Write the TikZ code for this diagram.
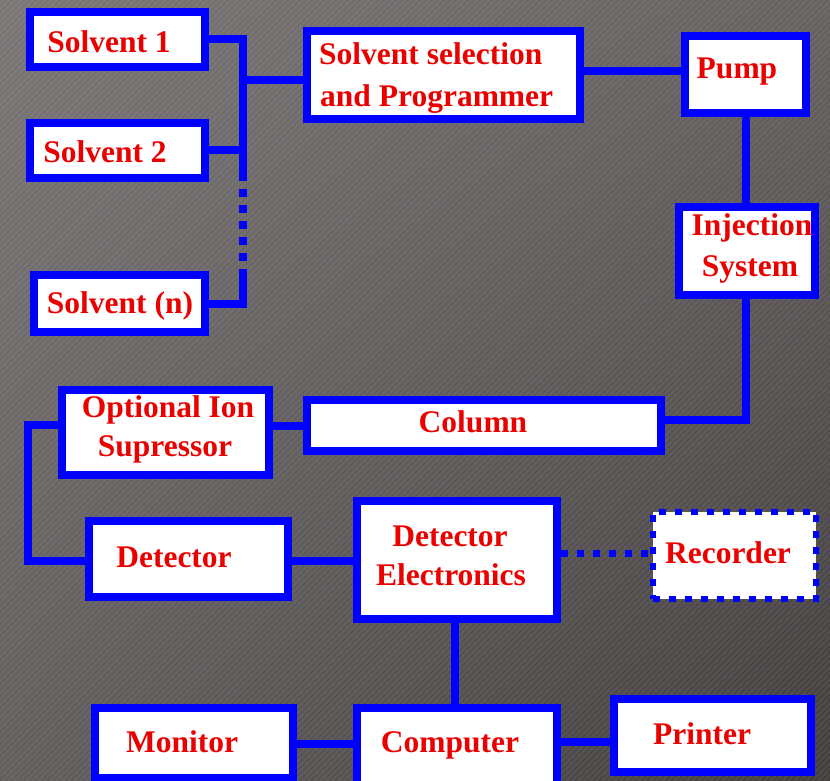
\documentclass[tikz,border=0pt]{standalone}
\usepackage{fontspec}
\usetikzlibrary{shadings}
\setmainfont{Liberation Serif}
\definecolor{bgUL}{RGB}{122,118,118}
\definecolor{bgUR}{RGB}{102,98,98}
\definecolor{bgLL}{RGB}{98,94,94}
\definecolor{bgLR}{RGB}{66,62,62}
\definecolor{boxblue}{RGB}{0,0,255}
\definecolor{txtred}{RGB}{235,0,0}
\begin{document}
\begin{tikzpicture}[x=1pt,y=-1pt,
  box/.style={draw=boxblue,fill=white,line width=8pt,rectangle,inner sep=0pt},
  dotbox/.style={draw=boxblue,fill=white,line width=6.5pt,rectangle,inner sep=0pt,dash pattern=on 7pt off 9pt},
  lbl/.style={text=txtred,font=\fontsize{31.5}{36}\selectfont\bfseries,anchor=base,inner sep=0pt},
  conn/.style={draw=boxblue,line width=8pt},
  dotconn/.style={draw=boxblue,line width=7pt,dash pattern=on 7pt off 9pt}]
\useasboundingbox (0,0) rectangle (830,781);
% background
\shade[upper left=bgUL,upper right=bgUR,lower left=bgLL,lower right=bgLR] (0,0) rectangle (830,781);
\begin{scope}
\clip (0,0) rectangle (830,781);
\foreach \i in {-790,-784,...,830}
  \draw[white,opacity=0.06,line width=2pt] (\i,781) -- ++(781,-781);
\end{scope}
% boxes
\node[box,minimum width=175pt,minimum height=55pt] (s1) at (117.5,39.5) {};
\node[box,minimum width=175pt,minimum height=55pt] (s2) at (117.5,150.5) {};
\node[box,minimum width=171pt,minimum height=57pt] (sn) at (119.5,303.5) {};
\node[box,minimum width=273pt,minimum height=88pt] (ss) at (443.5,75) {};
\node[box,minimum width=121pt,minimum height=77pt] (pump) at (745.5,74.5) {};
\node[box,minimum width=136pt,minimum height=88pt] (inj) at (747,251) {};
\node[box,minimum width=354pt,minimum height=51pt] (col) at (484,425.5) {};
\node[box,minimum width=207pt,minimum height=85pt] (opt) at (165.5,432.5) {};
\node[box,minimum width=199pt,minimum height=76pt] (det) at (188.5,559) {};
\node[box,minimum width=200pt,minimum height=118pt] (de) at (457,560) {};
\node[dotbox,minimum width=163pt,minimum height=87pt] (rec) at (734.5,555.5) {};
\node[box,minimum width=200pt,minimum height=83pt] (comp) at (457,749.5) {};
\node[box,minimum width=198pt,minimum height=70pt] (mon) at (194,743) {};
\node[box,minimum width=197pt,minimum height=73pt] (prn) at (712.5,735.5) {};
% labels
\node[lbl] (s1t) at (109,53) {Solvent 1};
\node[lbl] (s2t) at (105,162) {Solvent 2};
\node[lbl] (snt) at (120,313) {Solvent (n)};
\node[lbl,anchor=base west] (sst1) at (319,65) {Solvent selection};
\node[lbl,anchor=base west] (sst2) at (320,107) {and Programmer};
\node[lbl] (pumpt) at (737,79) {Pump};
\node[lbl] (injt1) at (752,235) {Injection};
\node[lbl] (injt2) at (750,276) {System};
\node[lbl] (colt) at (473,432) {Column};
\node[lbl] (optt1) at (168,417) {Optional Ion};
\node[lbl] (optt2) at (165,456) {Supressor};
\node[lbl] (dett) at (174,567) {Detector};
\node[lbl] (det1) at (450,546) {Detector};
\node[lbl] (det2) at (451,585) {Electronics};
\node[lbl] (rect) at (728,563) {Recorder};
\node[lbl] (mont) at (182,752) {Monitor};
\node[lbl] (compt) at (450,752) {Computer};
\node[lbl] (prnt) at (702,744) {Printer};
% connectors
\coordinate (bus) at (243,0);
\coordinate (j) at (243,80);
\draw[conn] (s1.east) -- (s1.east -| bus) -- (s2.east -| bus) -- ++(0,22);
\draw[conn] (s2.east) -- (s2.east -| bus);
\draw[conn,dash pattern=on 8pt off 8pt] (s2.east -| bus) ++(0,22) -- ++(0,88);
\draw[conn] (sn.east) -- (sn.east -| bus) -- ++(0,-35);
\draw[conn] (j) -- (j -| ss.west);
\coordinate (sp) at (600,71.5);
\draw[conn] (sp -| ss.east) -- (sp -| pump.west);
\coordinate (pv) at (746,0);
\draw[conn] (pv |- pump.south) -- (pv |- inj.north);
\coordinate (ic) at (746,420);
\draw[conn] (ic |- inj.south) -- (ic) -- (ic -| col.east);
\coordinate (co) at (0,426);
\draw[conn] (co -| col.west) -- (co -| opt.east);
\coordinate (lx) at (28,425);
\coordinate (ly) at (28,561);
\draw[conn] (lx -| opt.west) -- (lx) -- (ly) -- (ly -| det.west);
\draw[conn] (ly -| det.east) -- (ly -| de.west);
\coordinate (dr) at (0,553);
\draw[dotconn] (dr -| de.east) -- (dr -| rec.west);
\coordinate (dc) at (455,0);
\draw[conn] (dc |- de.south) -- (dc |- comp.north);
\coordinate (mc) at (0,744);
\draw[conn] (mc -| mon.east) -- (mc -| comp.west);
\coordinate (cp) at (0,742);
\draw[conn] (cp -| comp.east) -- (cp -| prn.west);
\end{tikzpicture}
\end{document}
